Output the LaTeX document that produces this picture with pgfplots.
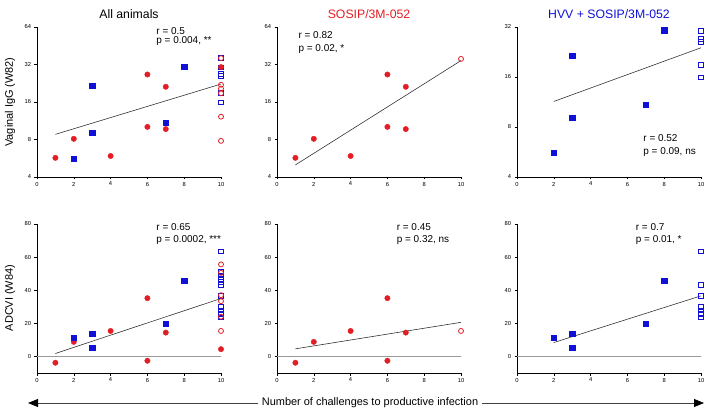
\documentclass[border=0pt]{standalone}
\usepackage{fontspec}
\setmainfont{Liberation Sans}
\usepackage{pgfplots}
\pgfplotsset{compat=1.18}
\usetikzlibrary{arrows.meta}
\pgfkeys{/pgf/number format/assume math mode=true}

\definecolor{myred}{RGB}{226,30,36}
\definecolor{myblue}{RGB}{16,16,214}

\pgfplotsset{
  panelbase/.style={scale only axis, width=184bp, height=150bp,
    xmin=0, xmax=10, xtick={0,2,...,10},
    axis lines*=left, tick align=outside, major tick length=2.5bp,
    tick style={black, line width=0.5bp},
    axis line style={black, line width=0.6bp},
    ticklabel style={font=\fontsize{5.8}{6}\selectfont},
    xticklabel style={yshift=1bp},
    clip=false},
  adcvipanel/.style={panelbase, height=149bp, ymin=-10, ymax=80, ytick={0,20,...,80}},
  redf/.style={only marks, mark=*, mark size=2.7bp, mark options={draw=myred, fill=myred}},
  redo/.style={only marks, mark=o, mark size=2.5bp, mark options={draw=myred, line width=0.8bp}},
  bluef/.style={only marks, mark=square*, mark size=2.6bp, mark options={draw=myblue, fill=myblue}},
  blueo/.style={only marks, mark=square, mark size=2.4bp, mark options={draw=myblue, line width=0.8bp}},
  fitl/.style={black!80, line width=0.6bp},
  zerol/.style={black!40, line width=0.5bp},
}
\newcommand{\annf}{\fontsize{10}{11}\selectfont}
\newcommand{\ttlf}{\fontsize{12.3}{14}\selectfont}
\newcommand{\labf}{\fontsize{11}{13}\selectfont}

\begin{document}
\begin{tikzpicture}
\path[use as bounding box] (0,0) rectangle (706bp,-412bp);

% ---- top row: vaginal IgG ----
\begin{axis}[panelbase, ymode=log, log basis y=2, ymin=4, ymax=64,
  at={(37bp,-177bp)}, anchor=south west,
  ytick={4,8,16,32,64}, yticklabels={4,8,16,32,64}]
\addplot[blueo] coordinates {(10,36) (10,30.3) (10,27) (10,26) (10,18.9) (10,15.9)};
\addplot[redo] coordinates {(10,36) (10,22) (10,20.5) (10,18.8) (10,12.2) (10,7.8)};
\addplot[redf] coordinates {(1,5.7) (2,8.1) (4,5.9) (6,26.6) (6,10.1) (7,21.2) (7,9.7) (10,30.5)};
\addplot[bluef] coordinates {(2,5.6) (3,21.6) (3,9.1) (7,10.9) (8,30.7)};
\addplot[fitl] coordinates {(1,8.8) (10,22.3)};
\node[anchor=west, font=\annf] at (rel axis cs:0.63,0.973) {r = 0.5};
\node[anchor=west, font=\annf] at (rel axis cs:0.63,0.907) {p = 0.004, **};
\node[font=\ttlf, yshift=13bp] at (rel axis cs:0.5,1) {All animals};
\end{axis}

\begin{axis}[panelbase, ymode=log, log basis y=2, ymin=4, ymax=64,
  at={(277bp,-177bp)}, anchor=south west,
  ytick={4,8,16,32,64}, yticklabels={4,8,16,32,64}]
\addplot[redo] coordinates {(10,35.5)};
\addplot[redf] coordinates {(1,5.7) (2,8.1) (4,5.9) (6,26.6) (6,10.1) (7,21.2) (7,9.7)};
\addplot[fitl] coordinates {(1,5.0) (10,34.4)};
\node[anchor=west, font=\annf] at (rel axis cs:0.098,0.947) {r = 0.82};
\node[anchor=west, font=\annf] at (rel axis cs:0.098,0.851) {p = 0.02, *};
\node[font=\ttlf, text=myred, yshift=13bp] at (rel axis cs:0.5,1) {SOSIP/3M-052};
\end{axis}

\begin{axis}[panelbase, ymode=log, log basis y=2, ymin=4, ymax=32,
  at={(517bp,-177bp)}, anchor=south west,
  ytick={4,8,16,32}, yticklabels={4,8,16,32}]
\addplot[blueo] coordinates {(10,30.3) (10,27) (10,26) (10,18.9) (10,15.9)};
\addplot[bluef] coordinates {(2,5.6) (3,21.6) (3,9.1) (7,10.9) (8,30.6)};
\addplot[fitl] coordinates {(2,11.4) (10,24.0)};
\node[anchor=west, font=\annf] at (rel axis cs:0.668,0.262) {r = 0.52};
\node[anchor=west, font=\annf] at (rel axis cs:0.668,0.169) {p = 0.09, ns};
\node[font=\ttlf, text=myblue, yshift=13bp] at (rel axis cs:0.5,1) {HVV + SOSIP/3M-052};
\end{axis}

% ---- bottom row: ADCVI ----
\begin{axis}[adcvipanel, at={(37bp,-373bp)}, anchor=south west]
\addplot[zerol] coordinates {(0,0) (10,0)};
\addplot[blueo] coordinates {(10,63.4) (10,51) (10,49) (10,47) (10,45) (10,43)
  (10,36.6) (10,30) (10,27.8) (10,25.8) (10,23.6)};
\addplot[redo] coordinates {(10,55.6) (10,50.5) (10,37) (10,33.4) (10,24) (10,15.4)};
\addplot[redf] coordinates {(1,-3.8) (2,8.8) (4,15.4) (6,35.2) (6,-2.6) (7,14.4) (10,4.4)};
\addplot[bluef] coordinates {(2,11.2) (3,13.6) (3,5.2) (7,20) (8,45.6)};
\addplot[fitl] coordinates {(1,1.8) (10,35)};
\node[anchor=west, font=\annf] at (rel axis cs:0.63,0.982) {r = 0.65};
\node[anchor=west, font=\annf] at (rel axis cs:0.63,0.893) {p = 0.0002, ***};
\end{axis}

\begin{axis}[adcvipanel, at={(277bp,-373bp)}, anchor=south west]
\addplot[zerol] coordinates {(0,0) (10,0)};
\addplot[redo] coordinates {(10,15.4)};
\addplot[redf] coordinates {(1,-3.8) (2,8.8) (4,15.4) (6,35.2) (6,-2.6) (7,14.4)};
\addplot[fitl] coordinates {(1,4.6) (10,20.6)};
\node[anchor=west, font=\annf] at (rel axis cs:0.632,0.982) {r = 0.45};
\node[anchor=west, font=\annf] at (rel axis cs:0.632,0.893) {p = 0.32, ns};
\end{axis}

\begin{axis}[adcvipanel, at={(517bp,-373bp)}, anchor=south west]
\addplot[zerol] coordinates {(0,0) (10,0)};
\addplot[blueo] coordinates {(10,63.4) (10,43.2) (10,36.6) (10,30) (10,27.8) (10,25.8) (10,23.6)};
\addplot[bluef] coordinates {(2,11.2) (3,13.6) (3,5.2) (7,20) (8,45.6)};
\addplot[fitl] coordinates {(2,8.4) (10,36.6)};
\node[anchor=west, font=\annf] at (rel axis cs:0.627,0.982) {r = 0.7};
\node[anchor=west, font=\annf] at (rel axis cs:0.627,0.893) {p = 0.01, *};
\end{axis}

% y labels and bottom arrow
\node[rotate=90, font=\labf] at (10bp,-102bp) {Vaginal IgG (W82)};
\node[rotate=90, font=\labf] at (10bp,-298bp) {ADCVI (W84)};
\draw[black!75, line width=0.8bp,
  {Triangle[length=10bp,width=8bp,black]}-{Triangle[length=10bp,width=8bp,black]}]
  (28bp,-403bp) -- (704bp,-403bp);
\node[fill=white, inner xsep=4bp, font=\labf] at (370bp,-403bp)
  {Number of challenges to productive infection};
\end{tikzpicture}
\end{document}
